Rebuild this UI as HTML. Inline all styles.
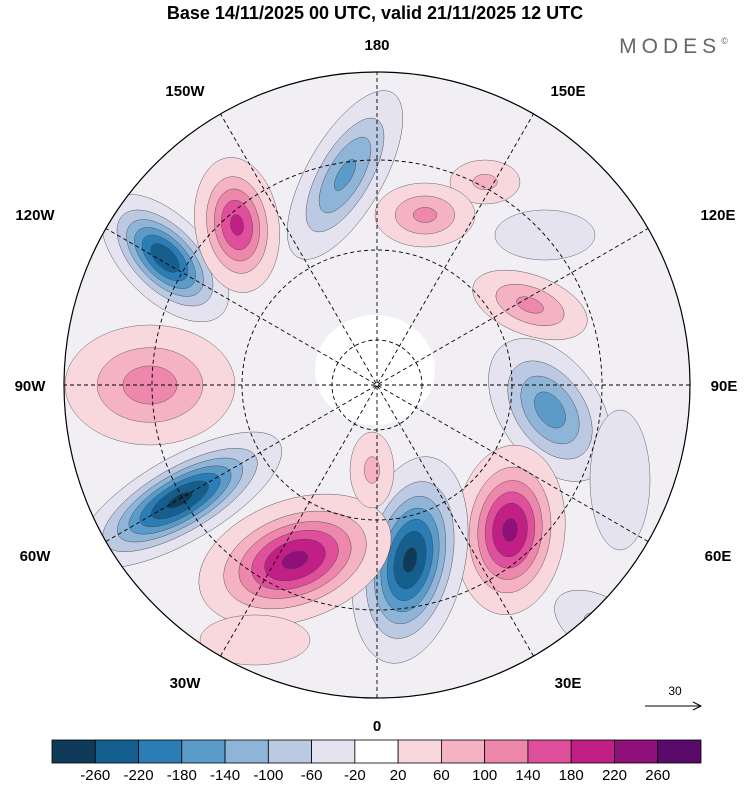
<!DOCTYPE html>
<html><head><meta charset="utf-8"><style>
body{margin:0;background:#fff;width:750px;height:783px;overflow:hidden;font-family:"Liberation Sans",sans-serif}
</style></head><body>
<svg id="chart" width="750" height="783" xmlns="http://www.w3.org/2000/svg">
<text x="375" y="19" text-anchor="middle" font-size="18" font-weight="bold">Base 14/11/2025 00 UTC, valid 21/11/2025 12 UTC</text>
<text x="676" y="53" text-anchor="middle" font-size="21" fill="#666" letter-spacing="5">MODES<tspan font-size="9" dy="-9">©</tspan></text>
<defs><clipPath id="cc"><circle cx="377" cy="385" r="313"/></clipPath></defs>
<g id="map" clip-path="url(#cc)"><circle cx="377" cy="385" r="313" fill="#f1eff3"/>
<ellipse cx="375" cy="370" rx="60" ry="55" fill="#ffffff"/></g>
<circle cx="377" cy="385" r="313" fill="none" stroke="#000" stroke-width="1.2"/>
<g id="grat" stroke="#000" stroke-dasharray="4,3" fill="none" stroke-width="0.9"></g>
<g id="labels" font-size="15" font-weight="bold" text-anchor="middle"></g>
<g><text x="675" y="695" font-size="12" text-anchor="middle">30</text>
<line x1="645" y1="706" x2="700" y2="706" stroke="#000"/><path d="M693 702 L701 706 L693 710" fill="none" stroke="#000"/></g>
<g id="cbar"></g>
</svg>
<script>
const levels=[-260,-220,-180,-140,-100,-60,-20,20,60,100,140,180,220,260];
const colors=["#0f3a5a","#145f8e","#2b7db6","#5b9bca","#8eb4d7","#bcc9e2","#e4e3ef","#ffffff","#f9d8dd","#f4b2c2","#ee87ac","#df4f9c","#c21f86","#8f0f7b","#5a0a6b"];
const blobX=[165,237,345,485,425,530,550,510,410,295,180,150,372,600,545,255,620];
const blobY=[258,225,175,182,215,305,410,530,560,560,500,385,470,625,235,640,480];
const blobRx=[80,42,95,35,50,60,80,55,55,100,115,85,22,50,50,55,30];
const blobRy=[42,68,38,22,32,30,50,85,105,60,42,60,38,28,25,25,70];
const blobRot=[45,-8,-60,0,0,20,55,5,12,-20,-30,0,0,30,0,0,0];
const blobPeak=[-250,190,-150,70,110,110,-160,230,-270,230,-270,120,70,-70,-60,60,-40];
const NS="http://www.w3.org/2000/svg";
const map=document.getElementById('map');
function colorFor(v){let i=0;while(i<levels.length&&v>levels[i])i++;return colors[i];}
blobX.forEach((cx,b)=>{
  const g=document.createElementNS(NS,'g');
  
  
  g.setAttribute('transform',`translate(${cx},${blobY[b]}) rotate(${blobRot[b]})`);
  const p=blobPeak[b],s=Math.sign(p);
  const th=levels.filter(l=>Math.sign(l)===s&&Math.abs(l)<Math.abs(p)).sort((a,c)=>Math.abs(a)-Math.abs(c));
  const base=Math.sqrt(2*Math.log(Math.abs(p)/20));
  th.forEach(l=>{
    const f=Math.sqrt(2*Math.log(Math.abs(p)/Math.abs(l)))/base;
    const e=document.createElementNS(NS,'ellipse');
    
    
    e.setAttribute('rx',blobRx[b]*f);e.setAttribute('ry',blobRy[b]*f);
    e.setAttribute('fill',colorFor(l+s*1));
    e.setAttribute('stroke','#444');e.setAttribute('stroke-width','0.4');
    g.appendChild(e);
  });
  map.appendChild(g);
});
const grat=document.getElementById('grat');
[45,135,225].forEach(r=>{const c=document.createElementNS(NS,'circle');


c.setAttribute('cx',377);c.setAttribute('cy',385);c.setAttribute('r',r);grat.appendChild(c);});
for(let a=0;a<180;a+=30){const t=a*Math.PI/180,l=document.createElementNS(NS,'line');


l.setAttribute('x1',377+313*Math.cos(t));l.setAttribute('y1',385+313*Math.sin(t));
l.setAttribute('x2',377-313*Math.cos(t));l.setAttribute('y2',385-313*Math.sin(t));grat.appendChild(l);}
const lonLabels=["180","150W","120W","90W","60W","30W","0","30E","60E","90E","120E","150E"];
const lonX=[377,185,35,30,35,185,377,568,718,724,718,568];
const lonY=[50,96,220,391,561,688,731,688,561,391,220,96];
const lg=document.getElementById('labels');
lonLabels.forEach((t,i)=>{const e=document.createElementNS(NS,'text');


e.setAttribute('x',lonX[i]);e.setAttribute('y',lonY[i]);e.textContent=t;lg.appendChild(e);});
const cb=document.getElementById('cbar');const w=649/colors.length;
colors.forEach((c,i)=>{const r=document.createElementNS(NS,'rect');


r.setAttribute('x',52+i*w);r.setAttribute('y',740);r.setAttribute('width',w);r.setAttribute('height',23);
r.setAttribute('fill',c);r.setAttribute('stroke','#000');r.setAttribute('stroke-width','0.8');cb.appendChild(r);});
levels.forEach((l,i)=>{const t=document.createElementNS(NS,'text');


t.setAttribute('x',52+(i+1)*w);t.setAttribute('y',780);t.setAttribute('text-anchor','middle');t.setAttribute('font-size','15');t.textContent=l;cb.appendChild(t);});
</script>
</body></html>
